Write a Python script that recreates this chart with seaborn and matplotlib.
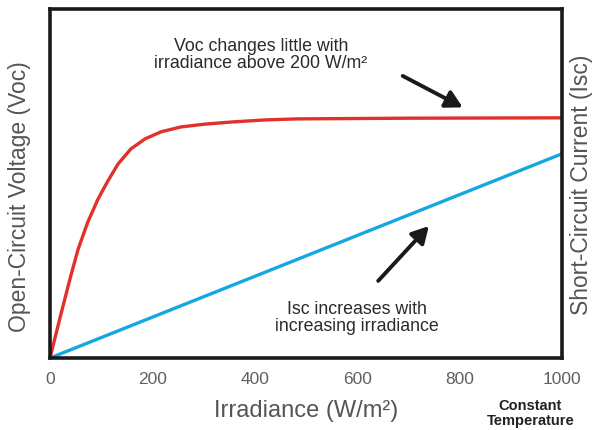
import numpy as np
import pandas as pd
import matplotlib
matplotlib.use("Agg")
import matplotlib.pyplot as plt
import seaborn as sns

# --------------------------
# DATA
# --------------------------
voc_irradiance = [0, 20, 40, 55, 74, 94, 113, 133, 158, 186, 217, 256, 303,
                  354, 420, 484, 700, 1000]
voc_values = [0.0, 0.118, 0.232, 0.312, 0.390, 0.456, 0.507, 0.556, 0.599,
              0.628, 0.648, 0.662, 0.670, 0.676, 0.682, 0.685, 0.687, 0.688]
isc_irradiance = [0, 1000]
isc_values = [0.0, 0.585]
x_ticks = [0, 200, 400, 600, 800, 1000]

sns.set_style("white")
plt.rcParams['font.family'] = ['Liberation Sans', 'DejaVu Sans']

fig = plt.figure(figsize=(5.98, 4.31), dpi=100)
ax = fig.add_axes([0.0836, 0.167, 0.8562, 0.81])

voc_df = pd.DataFrame({"x": voc_irradiance, "y": voc_values})
isc_df = pd.DataFrame({"x": isc_irradiance, "y": isc_values})

sns.lineplot(data=voc_df, x="x", y="y", ax=ax, color="#e2302b", linewidth=2.4)
sns.lineplot(data=isc_df, x="x", y="y", ax=ax, color="#16a6e0", linewidth=2.4)
for ln in ax.lines:
    ln.set_solid_joinstyle("round")

ax.set_xlim(0, 1000)
ax.set_ylim(0, 1)
ax.set_xticks(x_ticks)
ax.set_xticklabels([str(t) for t in x_ticks])
ax.set_yticks([])
ax.tick_params(axis="x", length=0, pad=9, labelsize=12.5, labelcolor="#606060")

for s in ax.spines.values():
    s.set_visible(True)
    s.set_color("#1a1a1a")
    s.set_linewidth(2.6)

ax.set_xlabel("Irradiance (W/m\u00b2)", fontsize=17, color="#555555", labelpad=10)
ax.set_ylabel("Open-Circuit Voltage (Voc)", fontsize=16.5, color="#555555")
ax.yaxis.set_label_coords(-0.038, 0.465)

ax2 = ax.twinx()
ax2.set_yticks([])
ax2.set_ylabel("Short-Circuit Current (Isc)", fontsize=16.5, color="#555555", labelpad=6)
for s in ax2.spines.values():
    s.set_visible(False)

arrow_style = dict(arrowstyle="-|>,head_length=1.0,head_width=0.55",
                   color="#1a1a1a", lw=2.8, shrinkA=0, shrinkB=0)

# annotations
ax.text(412, 0.87, "Voc changes little with\nirradiance above 200 W/m\u00b2",
        ha="center", va="center", fontsize=12.8, color="#2a2a2a", linespacing=1.0)
ax.annotate("", xy=(806, 0.718), xytext=(689, 0.808), arrowprops=arrow_style)

ax.text(600, 0.118, "Isc increases with\nincreasing irradiance",
        ha="center", va="center", fontsize=12.8, color="#2a2a2a", linespacing=1.0)
ax.annotate("", xy=(740, 0.378), xytext=(641, 0.221), arrowprops=arrow_style)

fig.text(0.887, 0.04, "Constant\nTemperature", ha="center", va="center",
         fontsize=10.5, fontweight="bold", color="#222222", linespacing=1.1)

fig.savefig("out.png", dpi=100)
